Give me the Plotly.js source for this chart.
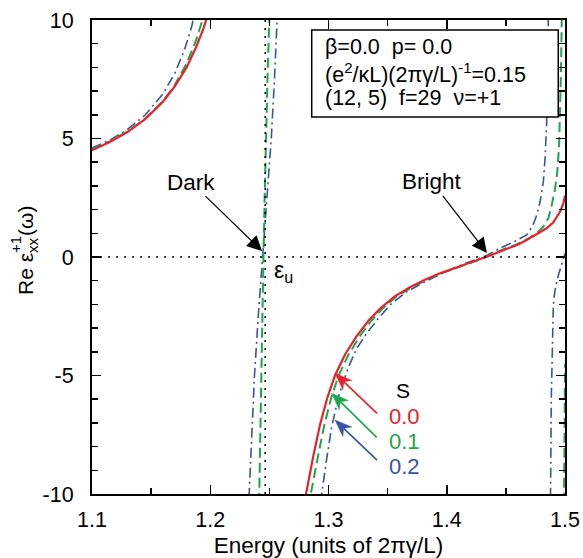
<!DOCTYPE html>
<html>
<head>
<meta charset="utf-8">
<script src="https://cdn.plot.ly/plotly-3.0.1.min.js"></script>
<style>
html,body{margin:0;padding:0;background:#fff;}
#chart{width:583px;height:558px;}
</style>
</head>
<body>
<div id="chart"></div>
<script>
// ---------- data ----------
// S = 0.0 (red, solid)
const redLeftX  = [1.100, 1.115, 1.130, 1.145, 1.160, 1.170, 1.180, 1.188, 1.194, 1.200];
const redLeftY  = [4.50, 4.85, 5.27, 5.82, 6.55, 7.20, 8.00, 8.85, 9.60, 10.55];
const redMidX   = [1.2780, 1.2810, 1.2871, 1.2928, 1.2990, 1.3055, 1.3140, 1.3238, 1.3340, 1.3436, 1.3560, 1.3689, 1.3820, 1.3943, 1.4100, 1.4253, 1.4366, 1.4500, 1.4600, 1.4676, 1.4760, 1.4845, 1.4900, 1.4958, 1.4985, 1.5000];
const redMidY   = [-11.2, -10.0, -8.41, -7.08, -5.94, -5.00, -4.11, -3.34, -2.68, -2.18, -1.66, -1.28, -0.95, -0.69, -0.41, -0.15, 0.06, 0.33, 0.52, 0.72, 0.95, 1.21, 1.45, 1.91, 2.25, 2.60];

// S = 0.1 (green, dashed)
const greenLeftX = [1.100, 1.115, 1.130, 1.145, 1.160, 1.170, 1.180, 1.188, 1.194, 1.199];
const greenLeftY = [4.55, 4.88, 5.29, 5.84, 6.58, 7.26, 8.17, 9.14, 10.09, 11.1];
const greenDarkX = [1.2411, 1.2414, 1.2423, 1.2432, 1.2441, 1.2450, 1.2460, 1.2470, 1.2484, 1.2499, 1.2503];
const greenDarkY = [-11, -10, -7.5, -5, -2.5, 0, 2.5, 5, 7.5, 10, 11];
const greenMidX  = [1.2820, 1.2850, 1.2911, 1.2965, 1.3023, 1.3085, 1.3170, 1.3265, 1.3364, 1.3456, 1.3577, 1.3704, 1.3832, 1.3953, 1.4107, 1.4258, 1.4366, 1.4500, 1.4600, 1.4704, 1.4770, 1.4817, 1.4860, 1.4888, 1.4915, 1.4935, 1.4950, 1.4958, 1.4966, 1.4972, 1.4975];
const greenMidY  = [-11.2, -10.0, -8.41, -7.08, -5.94, -5.00, -4.11, -3.34, -2.68, -2.18, -1.66, -1.28, -0.95, -0.69, -0.41, -0.15, 0.07, 0.37, 0.55, 0.82, 1.05, 1.28, 1.65, 2.19, 2.85, 3.60, 4.70, 6.00, 7.80, 9.93, 11.0];
const greenEdgeX = [1.4990, 1.4993, 1.4997, 1.5000];
const greenEdgeY = [-11, -10, -7, -4.5];

// S = 0.2 (blue, dash-dot)
const blueLeftX = [1.100, 1.115, 1.130, 1.145, 1.160, 1.170, 1.178, 1.184, 1.190];
const blueLeftY = [4.60, 4.93, 5.38, 5.99, 6.88, 7.75, 8.71, 9.67, 10.96];
const blueDarkX = [1.2320, 1.2328, 1.2350, 1.2374, 1.2406, 1.2442, 1.2480, 1.2516, 1.2543, 1.2566, 1.2574];
const blueDarkY = [-11, -10, -7.5, -5, -2.5, 0, 2.5, 5, 7.5, 10, 11];
const blueMidX  = [1.2920, 1.2942, 1.2985, 1.3027, 1.3090, 1.3168, 1.3240, 1.3323, 1.3420, 1.3520, 1.3650, 1.3802, 1.3950, 1.4100, 1.4250, 1.4350, 1.4450, 1.4560, 1.4676, 1.4730, 1.4761, 1.4790, 1.4817, 1.4832, 1.4845, 1.4853, 1.4859, 1.4862];
const blueMidY  = [-11.2, -10.0, -8.5, -7.16, -5.8, -4.65, -3.85, -3.22, -2.60, -2.03, -1.50, -1.08, -0.72, -0.38, -0.10, 0.10, 0.37, 0.62, 0.93, 1.35, 1.77, 2.35, 3.18, 4.20, 5.70, 7.5, 9.93, 11.0];
const blueEdgeX = [1.4876, 1.4879, 1.4881, 1.4884, 1.4889, 1.4895, 1.4901, 1.4910, 1.4921, 1.4945, 1.4977, 1.5000];
const blueEdgeY = [-11, -10, -8, -6, -4.5, -3.2, -2.1, -1.6, -1.25, -0.75, -0.2, 0.15];

// reference lines: dark-mode energy and zero level
const darkEnergy = [1.2465];
const zeroLevel = [0];

// legend labels
const sValues = ['0.0', '0.1', '0.2'];

// axes
const xTickVals = [1.1, 1.2, 1.3, 1.4, 1.5];
const xTickText = ['1.1', '1.2', '1.3', '1.4', '1.5'];
const yTickVals = [-10, -5, 0, 5, 10];
const yTickText = ['-10', '-5', '0', '5', '10'];

// ---------- styling ----------
const RED = '#e8222b', GREEN = '#1ea64b', BLUE = '#3a53a4';
const FONT = 'Liberation Sans, Arial, Helvetica, sans-serif';
const L = 92, T = 20, PW = 473, PH = 474;
const X0 = 1.1, X1 = 1.5, Y0 = -10, Y1 = 10;
const px = v => (v - L) / PW;          // pixel -> paper x
const py = v => (T + PH - v) / PH;     // pixel -> paper y
// pixel <-> data helpers for the small arrow glyphs
const dToPx = x => L + (x - X0) / (X1 - X0) * PW;
const dToPy = y => T + (Y1 - y) / (Y1 - Y0) * PH;
const pToDx = p => X0 + (p - L) / PW * (X1 - X0);
const pToDy = p => Y1 - (p - T) / PH * (Y1 - Y0);

const redLine   = {color: RED, width: 2.2};
const greenLine = {color: GREEN, width: 2, dash: '10px,5px'};
const blueLine  = {color: BLUE, width: 1.6, dash: '10px,4px,2px,4px'};

function tr(x, y, line) {
  return {x: x, y: y, type: 'scatter', mode: 'lines', line: line, hoverinfo: 'skip', showlegend: false};
}

const data = [
  tr(blueLeftX, blueLeftY, blueLine),
  tr(blueDarkX, blueDarkY, blueLine),
  tr(blueMidX, blueMidY, blueLine),
  tr(blueEdgeX, blueEdgeY, blueLine),
  tr(greenLeftX, greenLeftY, greenLine),
  tr(greenDarkX, greenDarkY, greenLine),
  tr(greenMidX, greenMidY, greenLine),
  tr(greenEdgeX, greenEdgeY, greenLine),
  tr(redLeftX, redLeftY, redLine),
  tr(redMidX, redMidY, redLine),
];

const ann = [];
// parameter box text
const boxLines = [
  '\u03b2=0.0\u00a0 p=\u00a00.0',
  '(e<sup>2</sup>/\u03baL)(2\u03c0\u03b3/L)<sup>-1</sup>=0.15',
  '(12,\u00a05)\u00a0 f=29\u00a0 \u03bd=+1'
];
const boxPix = [47, 72.5, 97.5];
boxLines.forEach((t, i) => ann.push({
  x: 1.2962, y: pToDy(boxPix[i]), xref: 'x', yref: 'y', text: t, showarrow: false,
  xanchor: 'left', yanchor: 'middle', borderpad: 0, font: {family: FONT, size: 21.5, color: '#000'}
}));

// Dark / Bright arrows
ann.push({x: 1.2438, y: 0.25, xref: 'x', yref: 'y', text: 'Dark', showarrow: true,
  ax: -71, ay: -69, arrowhead: 2, arrowsize: 2.5, arrowwidth: 1.2, arrowcolor: '#000', standoff: 0,
  font: {family: FONT, size: 22.5, color: '#000'}});
ann.push({x: 1.4340, y: 0.17, xref: 'x', yref: 'y', text: 'Bright', showarrow: true,
  ax: -55, ay: -71, arrowhead: 2, arrowsize: 2.5, arrowwidth: 1.2, arrowcolor: '#000', standoff: 0,
  font: {family: FONT, size: 22.5, color: '#000'}});
ann.push({x: 1.2620, y: -0.63, xref: 'x', yref: 'y', text: '\u03b5<sub>u</sub>', showarrow: false,
  font: {family: FONT, size: 23, color: '#000'}});

// S labels
const sCols = [RED, GREEN, BLUE];
ann.push({x: 1.3630, y: pToDy(390), xref: 'x', yref: 'y', text: 'S', showarrow: false, borderpad: 0,
  font: {family: FONT, size: 21, color: '#000'}});
const sLabPix = [416, 441, 466];
sValues.forEach((s, i) => ann.push({x: 1.3640, y: pToDy(sLabPix[i]), xref: 'x', yref: 'y', text: s,
  showarrow: false, borderpad: 0, font: {family: FONT, size: 22, color: sCols[i]}}));

// y-axis title (stacked super/subscript)
ann.push({x: px(25), y: py(274), xref: 'paper', yref: 'paper', text: 'Re \u03b5', showarrow: false,
  textangle: -90, xanchor: 'center', yanchor: 'middle', font: {family: FONT, size: 21, color: '#000'}});
ann.push({x: px(15), y: py(245), xref: 'paper', yref: 'paper', text: '+1', showarrow: false,
  textangle: -90, xanchor: 'center', yanchor: 'middle', font: {family: FONT, size: 15, color: '#000'}});
ann.push({x: px(32), y: py(245), xref: 'paper', yref: 'paper', text: 'xx', showarrow: false,
  textangle: -90, xanchor: 'center', yanchor: 'middle', font: {family: FONT, size: 15, color: '#000'}});
ann.push({x: px(25), y: py(221), xref: 'paper', yref: 'paper', text: '(\u03c9)', showarrow: false,
  textangle: -90, xanchor: 'center', yanchor: 'middle', font: {family: FONT, size: 21, color: '#000'}});

const shapes = [
  {type: 'line', xref: 'paper', yref: 'y', x0: 0, x1: 1, y0: zeroLevel[0], y1: zeroLevel[0],
   line: {color: '#000', width: 1.6, dash: '2px,6px'}},
  {type: 'line', xref: 'x', yref: 'y', x0: darkEnergy[0], x1: darkEnergy[0], y0: -10, y1: 10,
   line: {color: '#000', width: 1.6, dash: '2px,6px'}},
  {type: 'rect', xref: 'x', yref: 'y', x0: 1.2858, x1: 1.4943, y0: pToDy(117), y1: pToDy(30),
   line: {color: '#000', width: 1.5}, fillcolor: 'rgba(255,255,255,1)', layer: 'above'}
];

// S arrows drawn as shapes (shaft + notched head), tip in data coords, tail offset in pixels
function addArrow(tipX, tipY, dxPx, dyPx, color) {
  const tx = dToPx(tipX), ty = dToPy(tipY);
  const len = Math.hypot(dxPx, dyPx);
  const ux = dxPx / len, uy = dyPx / len;        // tip -> tail
  const nx = -uy, ny = ux;
  const hl = 17, hw = 6.5, notch = 12;
  const bx = tx + ux * hl, by = ty + uy * hl;
  const w1 = [bx + nx * hw, by + ny * hw], w2 = [bx - nx * hw, by - ny * hw];
  const nt = [tx + ux * notch, ty + uy * notch];
  const P = (p) => pToDx(p[0]).toFixed(6) + ',' + pToDy(p[1]).toFixed(5);
  shapes.push({type: 'line', xref: 'x', yref: 'y',
    x0: pToDx(tx + dxPx), y0: pToDy(ty + dyPx), x1: pToDx(nt[0]), y1: pToDy(nt[1]),
    line: {color: color, width: 1.7}});
  shapes.push({type: 'path', xref: 'x', yref: 'y',
    path: 'M' + P([tx, ty]) + 'L' + P(w1) + 'L' + P(nt) + 'L' + P(w2) + 'Z',
    fillcolor: color, line: {color: color, width: 0.5}});
}
const sHead = [[1.3055, -4.91, 42, 40], [1.3027, -5.75, 45, 44], [1.3055, -6.88, 42, 40]];
sHead.forEach((h, i) => addArrow(h[0], h[1], h[2], h[3], sCols[i]));

const layout = {
  width: 583, height: 558,
  margin: {l: L, r: 583 - L - PW, t: T, b: 558 - T - PH, pad: 0},
  paper_bgcolor: '#fff', plot_bgcolor: '#fff',
  font: {family: FONT, color: '#000'},
  showlegend: false,
  xaxis: {
    range: [X0, X1], tickvals: xTickVals, ticktext: xTickText,
    ticks: 'inside', ticklen: 9, tickwidth: 1.5, tickcolor: '#000',
    minor: {dtick: 0.05, tick0: 1.1, ticks: 'inside', ticklen: 6, tickwidth: 1.5, tickcolor: '#000', showgrid: false},
    showline: true, linewidth: 2, linecolor: '#000', mirror: 'allticks',
    showgrid: false, zeroline: false, ticklabelstandoff: 5,
    tickfont: {family: FONT, size: 21.5, color: '#000'},
    title: {text: 'Energy (units of 2\u03c0\u03b3/L)', font: {family: FONT, size: 22.5, color: '#000'}, standoff: 11}
  },
  yaxis: {
    range: [Y0, Y1], tickvals: yTickVals, ticktext: yTickText,
    ticks: 'inside', ticklen: 9, tickwidth: 1.5, tickcolor: '#000',
    minor: {dtick: 1, tick0: 0, ticks: 'inside', ticklen: 6, tickwidth: 1.5, tickcolor: '#000', showgrid: false},
    showline: true, linewidth: 2, linecolor: '#000', mirror: 'allticks',
    showgrid: false, zeroline: false, ticklabelstandoff: 12,
    tickfont: {family: FONT, size: 21.5, color: '#000'}
  },
  annotations: ann,
  shapes: shapes
};

Plotly.newPlot('chart', data, layout, {staticPlot: true, displayModeBar: false});
</script>
</body>
</html>
